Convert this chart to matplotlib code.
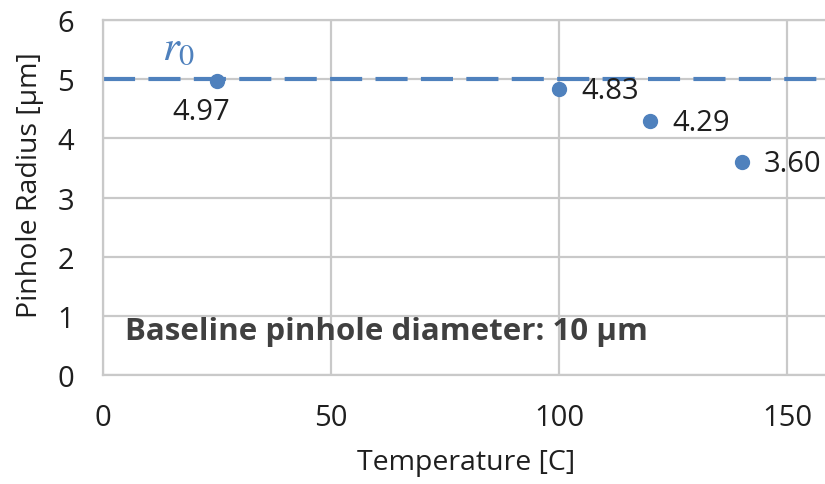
import matplotlib
matplotlib.use('Agg')
import matplotlib.pyplot as plt

# data
temps = [25, 100, 120, 140]
radius = [4.97, 4.83, 4.29, 3.60]
labels = ['4.97', '4.83', '4.29', '3.60']
r0 = 5.0
xticks = [0, 50, 100, 150]
yticks = [0, 1, 2, 3, 4, 5, 6]

plt.rcParams['font.family'] = ['Open Sans', 'DejaVu Sans']
plt.rcParams['mathtext.fontset'] = 'stix'

blue = '#4f81bd'
grid = '#c9c9c9'
txt = '#1f1f1f'

fig = plt.figure(figsize=(8.25, 4.85), dpi=100)
ax = fig.add_axes([103/825, 1 - 376/485, 1 - 103/825, (376 - 21)/485])

ax.set_xlim(0, 158.3)
ax.set_ylim(0, 6)
ax.set_xticks(xticks)
ax.set_yticks(yticks)
ax.grid(True, color=grid, linewidth=1.6)
ax.set_axisbelow(True)
ax.spines['right'].set_visible(False)
for s in ['left', 'bottom', 'top']:
    ax.spines[s].set_color(grid)
    ax.spines[s].set_linewidth(1.6)
ax.tick_params(length=0, labelsize=21, labelcolor=txt)
ax.tick_params(axis='y', pad=21)
ax.tick_params(axis='x', pad=20)

ax.axhline(r0, color=blue, linewidth=3, dashes=(7.7, 3.2), zorder=2)
ax.plot(temps, radius, 'o', color=blue, markersize=10, zorder=3)

for i, (x, y, lab) in enumerate(zip(temps, radius, labels)):
    if i == 0:
        ax.annotate(lab, (x, y), xytext=(-11, -22), textcoords='offset points',
                    ha='center', va='center', fontsize=21, color=txt)
    else:
        ax.annotate(lab, (x, y), xytext=(16, -1), textcoords='offset points',
                    ha='left', va='center', fontsize=21, color=txt)

ax.text(16.5, 5.55, r'$r_0$', color=blue, fontsize=31, ha='center', va='center')
ax.text(4.8, 0.74, 'Baseline pinhole diameter: 10 µm', fontsize=22.5,
        fontweight='bold', color='#404040', ha='left', va='center')

fig.text(466/825, 1 - 463/485, 'Temperature [C]', fontsize=20.5, color=txt,
         ha='center', va='center')
fig.text(30/825, 1 - 185/485, 'Pinhole Radius [µm]', fontsize=20.5, color=txt,
         ha='center', va='center', rotation=90)

fig.savefig('out.png', dpi=100)
